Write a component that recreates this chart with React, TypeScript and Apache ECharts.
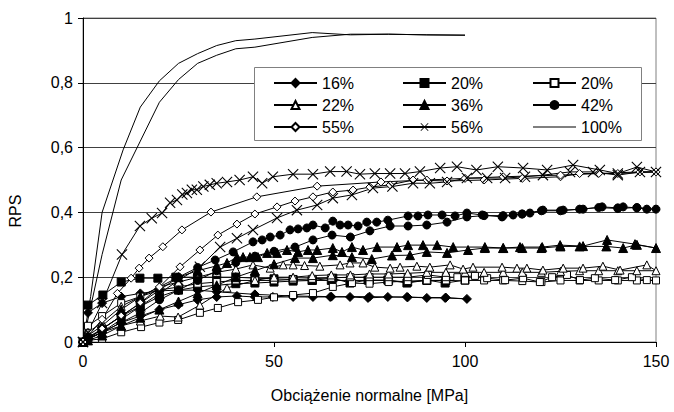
import React, { useEffect, useRef } from "react";
import * as echarts from "echarts";

const FONT = "'Liberation Sans', Arial, sans-serif";

const xTicks = [0, 50, 100, 150];
const yTicks = [0, 0.2, 0.4, 0.6, 0.8, 1];

const legendCol1 = ["s16", "s22", "s55"];
const legendCol2 = ["s20f", "s36", "s56"];
const legendCol3 = ["s20o", "s42", "s100"];
const labels: Record<string, string> = {
  s16: "16%", s20f: "20%", s20o: "20%", s22: "22%", s36: "36%",
  s42: "42%", s55: "55%", s56: "56%", s100: "100%",
};

const d16 = [[0,0],[1.3,0.01],[5,0.03],[10,0.06],[15,0.08],[20,0.1],[25,0.115],[30,0.13],[35,0.139],[40.3,0.142],[45,0.139],[49.7,0.139],[55,0.139],[60.2,0.139],[64.7,0.139],[69.9,0.139],[74.6,0.136],[79.8,0.139],[84.8,0.139],[90,0.136],[94.8,0.136],[100.5,0.133],
  [95,0.137],[85,0.138],[75,0.14],[65,0.14],[55,0.142],[45,0.147],[35,0.155],[30,0.16],[25,0.16],[20,0.158],[15,0.15],[10,0.14],[5,0.12],[1.3,0.09]];

const d20f = [[0,0],[1.3,0.01],[5,0.04],[10,0.08],[15,0.11],[20,0.14],[25,0.16],[30,0.17],[35,0.175],[40,0.18],[45,0.182],[50,0.185],[55,0.188],[60,0.19],[65.4,0.197],[69.9,0.182],[74.6,0.191],[79.8,0.191],[84.8,0.182],[90,0.191],[94.8,0.182],[100,0.191],
  [95,0.19],[90,0.19],[85,0.185],[80,0.19],[75,0.19],[70,0.19],[65,0.19],[60,0.19],[55,0.193],[50,0.195],[45,0.197],[40,0.2],[35,0.2],[30,0.2],[24.3,0.2],[19.6,0.197],[14.9,0.197],[10,0.185],[5.2,0.145],[1.3,0.114]];

const d20o = [[0,0],[1.3,0.005],[5,0.01],[10,0.03],[15.2,0.046],[20,0.06],[24.9,0.068],[30.6,0.09],[35.3,0.105],[40.6,0.123],[45.8,0.13],[50,0.138],[55,0.145],[60.2,0.151],[65.4,0.17],[70.4,0.182],[75,0.18],[80,0.185],[85,0.188],[90,0.19],[95,0.19],[100,0.19],[105,0.19],[110,0.19],[115,0.188],[120,0.185],[125,0.19],[130,0.19],[135,0.19],[140,0.19],[145,0.19],[150,0.19],
  [147.6,0.191],[143.7,0.2],[139.3,0.191],[134,0.197],[130.1,0.191],[126.7,0.207],[122.8,0.2],[119.6,0.185],[115.2,0.197],[110.5,0.191],[105.8,0.197],[102.6,0.204],[98,0.2],[95,0.2],[90.3,0.207],[85,0.2],[80,0.2],[75,0.2],[70,0.2],[65,0.198],[60,0.195],[55,0.193],[50,0.19],[45,0.19],[40,0.19],[35,0.185],[30,0.18],[25,0.17],[20,0.16],[15,0.14],[10,0.12],[5,0.08],[1.3,0.05],[0,0]];

const d22 = [[0,0],[1.3,0.01],[5,0.03],[10,0.05],[15,0.065],[20.2,0.08],[24.9,0.077],[30.6,0.114],[37.7,0.167],[45,0.19],[50,0.2],[55,0.2],[60,0.205],[65,0.207],[70,0.207],[75,0.21],[80,0.21],[85,0.212],[90,0.215],[95,0.215],[100,0.215],[105,0.215],[110,0.215],[115,0.215],[120,0.215],[125,0.218],[130,0.22],[135,0.22],[140,0.22],[145,0.22],[150,0.22],
  [147.6,0.238],[140.6,0.222],[136.1,0.234],[130.9,0.228],[125.7,0.228],[120.4,0.222],[116.2,0.228],[113.6,0.228],[109.7,0.231],[102.1,0.231],[99.5,0.225],[96.1,0.238],[90.8,0.231],[87.4,0.234],[83,0.231],[80.4,0.228],[76.4,0.231],[73.3,0.244],[69.9,0.244],[67.3,0.238],[62,0.234],[58,0.236],[55,0.238],[52.4,0.238],[49,0.228],[44.5,0.238],[40,0.225],[35,0.215],[30,0.2],[25,0.185],[20,0.17],[15,0.14],[10,0.11],[5,0.06],[1.3,0.03],[0,0]];

const d36 = [[0,0],[1.3,0.005],[5,0.02],[10,0.05],[15,0.075],[20,0.1],[25,0.125],[30,0.15],[35,0.175],[40,0.2],[45,0.22],[50,0.24],[55.5,0.259],[60.2,0.259],[65.4,0.268],[70.4,0.262],[75.6,0.256],[80.9,0.267],[85.6,0.268],[90,0.278],[95.3,0.275],[100.8,0.284],[105.2,0.29],[110,0.29],[115,0.29],[120,0.29],[125,0.295],[130,0.295],[137,0.295],[141.4,0.29],[145,0.3],[150,0.29],
  [144.5,0.302],[137.2,0.315],[130.9,0.296],[124.9,0.299],[120.2,0.293],[114.4,0.293],[110,0.29],[105.2,0.293],[96.9,0.293],[92.7,0.299],[89,0.299],[85.1,0.299],[82.2,0.293],[77,0.293],[73.3,0.284],[70.4,0.293],[67.8,0.278],[65.4,0.29],[61.3,0.284],[58.9,0.284],[56.3,0.278],[53.4,0.284],[50.8,0.275],[48.2,0.275],[45.8,0.262],[43.7,0.262],[41.9,0.262],[40.3,0.262],[37.7,0.244],[35,0.235],[30,0.22],[25,0.2],[20,0.17],[15,0.14],[10,0.1],[5,0.05],[1.3,0.02],[0,0]];

const d42 = [[0,0],[1.3,0.01],[5,0.03],[10,0.06],[15,0.09],[20,0.13],[25,0.16],[30,0.19],[35,0.22],[40,0.245],[45,0.265],[50,0.28],[55.5,0.293],[60.2,0.315],[65.2,0.33],[70,0.324],[75.1,0.343],[80.4,0.358],[85.1,0.358],[90,0.361],[95.3,0.37],[100.5,0.386],[105,0.39],[110,0.39],[115,0.395],[120,0.405],[125,0.405],[130,0.41],[135,0.415],[140,0.412],[145,0.415],[150,0.41],
  [147.6,0.41],[145,0.414],[141.4,0.417],[140,0.414],[135.9,0.417],[130.9,0.41],[125.7,0.407],[120.4,0.407],[117,0.398],[114.9,0.395],[112.6,0.392],[109.7,0.386],[104.5,0.392],[100.5,0.398],[97.4,0.389],[94,0.392],[90.3,0.392],[87.7,0.389],[85.1,0.389],[79.8,0.376],[76.9,0.37],[74.3,0.37],[72,0.358],[69.4,0.361],[67.3,0.361],[65.4,0.373],[63.4,0.352],[60.2,0.361],[58.6,0.352],[56.3,0.349],[54.2,0.346],[51.6,0.33],[49,0.324],[46.9,0.315],[44.5,0.309],[39.3,0.278],[34.6,0.253],[30,0.23],[25,0.2],[20,0.16],[15,0.12],[10,0.08],[5,0.04],[1.3,0.015],[0,0]];

const d55 = [[0,0],[5,0.04],[10,0.08],[15,0.12],[20,0.17],[25.4,0.232],[30.6,0.284],[35.3,0.33],[40.3,0.364],[45,0.395],[50.8,0.417],[55.5,0.435],[60.2,0.448],[65.4,0.463],[70.7,0.469],[75.1,0.478],[80.4,0.485],[86.4,0.5],[95.3,0.497],[105,0.5],[115,0.505],[125,0.51],[130,0.52],[140,0.52],[150,0.525],
  [145.8,0.525],[135,0.52],[125,0.515],[110,0.51],[100,0.505],[90,0.5],[78,0.494],[61.3,0.481],[45.5,0.448],[33.5,0.401],[25.9,0.346],[20.9,0.294],[17.3,0.259],[14.7,0.228],[12.6,0.197],[9,0.15],[5,0.07],[0,0]];

const d56 = [[0,0],[5,0.03],[10,0.07],[15,0.11],[20,0.15],[25,0.19],[30.6,0.232],[35.9,0.293],[40.3,0.32],[44.5,0.346],[50.8,0.383],[56,0.407],[61.3,0.423],[65.4,0.444],[70.4,0.454],[75.9,0.475],[81,0.48],[86.4,0.49],[90.8,0.49],[95.3,0.494],[100.5,0.506],[105.8,0.506],[110.5,0.506],[115.7,0.51],[120.4,0.515],[127.5,0.525],[133.5,0.525],[140,0.515],[145.8,0.525],[150,0.525],
  [145,0.54],[140,0.52],[135.3,0.531],[128.3,0.546],[121.5,0.531],[115.2,0.537],[108.6,0.541],[103,0.531],[97.9,0.541],[93.5,0.537],[88.2,0.526],[84.3,0.52],[80.4,0.52],[76.4,0.52],[72.5,0.518],[69,0.526],[64.7,0.526],[60.2,0.518],[55,0.518],[49.7,0.51],[46.9,0.49],[44.5,0.51],[41,0.5],[37.7,0.494],[35,0.49],[33.2,0.485],[31.5,0.48],[29.8,0.47],[28.5,0.47],[27.2,0.46],[26,0.455],[24.6,0.438],[22.8,0.43],[20.7,0.398],[18,0.382],[14.9,0.358],[10.2,0.27],[5,0.12],[0,0]];

const d100 = [[0,0],[5,0.27],[10,0.5],[15,0.62],[20,0.74],[25,0.81],[30,0.86],[35,0.885],[40,0.905],[45,0.91],[60,0.94],[70,0.95],[80,0.95],[90,0.948],[100,0.947],
  [90,0.948],[80,0.95],[70,0.948],[60,0.955],[45,0.935],[40,0.93],[35,0.915],[30,0.89],[25,0.86],[20,0.806],[15,0.725],[10.5,0.593],[5,0.4],[2,0.14],[0,0]];

const CROSS = "path://M0,0.7L0.7,0L5,4.3L9.3,0L10,0.7L5.7,5L10,9.3L9.3,10L5,5.7L0.7,10L0,9.3L4.3,5Z";
const LINE_ICON = "path://M0,0L43,0L43,1L0,1Z";

function mk(id: string, data: number[][], symbol: string, size: number, fill: string, bw = 1) {
  return {
    type: "line",
    name: id,
    data,
    symbol,
    symbolSize: size,
    showSymbol: symbol !== "none",
    lineStyle: { color: "#000", width: 1 },
    itemStyle: { color: fill, borderColor: "#000", borderWidth: bw },
    emphasis: { disabled: true },
    silent: true,
  };
}

export default function App() {
  const ref = useRef<HTMLDivElement>(null);
  useEffect(() => {
    if (!ref.current) return;
    const chart = echarts.init(ref.current, undefined, { renderer: "svg" });
    const legendBase = {
      orient: "vertical",
      top: 74,
      itemWidth: 43,
      itemHeight: 10,
      itemGap: 4,
      padding: 0,
      selectedMode: false,
      formatter: (n: string) => labels[n] ?? n,
      textStyle: { fontFamily: FONT, fontSize: 16, lineHeight: 18, color: "#000" },
    };
    chart.setOption({
      animation: false,
      backgroundColor: "#fff",
      textStyle: { fontFamily: FONT },
      grid: {
        left: 83, right: 18, top: 18, bottom: 70,
        show: true, borderColor: "#808080", borderWidth: 1, backgroundColor: "transparent",
      },
      xAxis: {
        type: "value", min: xTicks[0], max: xTicks[xTicks.length - 1], interval: 50,
        name: "Obciążenie normalne [MPa]", nameLocation: "middle", nameGap: 45,
        nameTextStyle: { fontFamily: FONT, fontSize: 16, color: "#000" },
        axisLine: { show: true, lineStyle: { color: "#000", width: 1 } },
        axisTick: { show: true, length: 5, inside: false, lineStyle: { color: "#000" } },
        axisLabel: { fontFamily: FONT, fontSize: 16, color: "#000", margin: 11 },
        splitLine: { show: false },
      },
      yAxis: {
        type: "value", min: yTicks[0], max: yTicks[yTicks.length - 1], interval: 0.2,
        axisLine: { show: true, lineStyle: { color: "#000", width: 1 } },
        axisTick: { show: true, length: 5, inside: false, lineStyle: { color: "#000" } },
        axisLabel: {
          fontFamily: FONT, fontSize: 16, color: "#000", margin: 10,
          formatter: (v: number) => String(Number(v.toFixed(1))).replace(".", ","),
        },
        splitLine: { show: true, lineStyle: { color: "#404040", width: 1 } },
      },
      legend: [
        { ...legendBase, left: 273, data: legendCol1 },
        { ...legendBase, left: 402, data: legendCol2 },
        {
          ...legendBase, left: 532,
          data: legendCol3.map((n) => (n === "s100" ? { name: n, icon: LINE_ICON, itemStyle: { color: "#000", borderWidth: 0 } } : n)),
        },
      ],
      graphic: [
        {
          type: "rect", z: 1, silent: true,
          shape: { x: 254.5, y: 67.5, width: 387, height: 73 },
          style: { fill: "#fff", stroke: "#808080", lineWidth: 1 },
        },
        {
          type: "text", x: 15, y: 211, rotation: Math.PI / 2, silent: true,
          style: { text: "RPS", fontFamily: FONT, fontSize: 16, fill: "#000", textAlign: "center", textVerticalAlign: "middle" },
        },
      ],
      series: [
        mk("s16", d16, "diamond", 9, "#000"),
        mk("s20f", d20f, "rect", 8, "#000"),
        mk("s20o", d20o, "rect", 7, "#fff"),
        mk("s22", d22, "triangle", 8, "#fff"),
        mk("s36", d36, "triangle", 9, "#000"),
        mk("s42", d42, "circle", 8, "#000"),
        mk("s55", d55, "diamond", 8, "#fff"),
        mk("s56", d56, CROSS, 11, "#000", 0),
        mk("s100", d100, "none", 0, "#000"),
      ],
    });
    return () => chart.dispose();
  }, []);
  return <div ref={ref} style={{ position: "fixed", left: 0, top: 0, width: 674, height: 412 }} />;
}
